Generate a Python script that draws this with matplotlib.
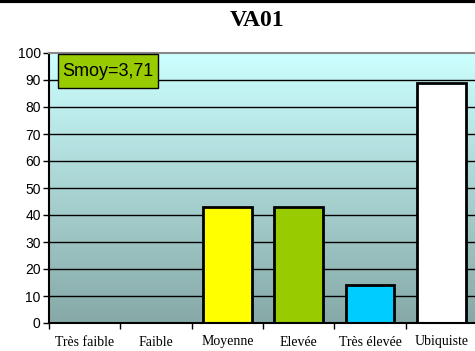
import numpy as np
import matplotlib
matplotlib.use("Agg")
from matplotlib import pyplot as plt
from matplotlib.colors import LinearSegmentedColormap
from matplotlib.patches import Rectangle

categories = ["Très faible", "Faible", "Moyenne", "Elevée", "Très élevée", "Ubiquiste"]
values = [0, 0, 43, 43, 14, 89]
bar_colors = ["#FFFF00", "#FFFF00", "#FFFF00", "#99CC00", "#00CCFF", "#FFFFFF"]
yticks = list(range(0, 101, 10))
title = "VA01"
smoy = "Smoy=3,71"

W, H = 475, 351
fig = plt.figure(figsize=(W / 100, H / 100), dpi=100)
fig.patch.set_facecolor("white")
ax = fig.add_axes([49 / W, 1 - 323 / H, 428 / W, 270 / H])

# background gradient, light cyan at top to grey teal at the bottom
grad = LinearSegmentedColormap.from_list("bg", ["#86A9A7", "#CCFFFF"])
ax.imshow(np.linspace(0, 1, 256).reshape(-1, 1), cmap=grad, aspect="auto",
          extent=(0, 1, 0, 1), transform=ax.transAxes, origin="lower", zorder=0)

x = np.arange(len(categories))
ax.set_xlim(-0.5, len(categories) - 0.5)
ax.set_ylim(0, 100)
for yv in yticks[1:-1]:
    ax.axhline(yv, color="black", lw=1.0, zorder=1)

ax.bar(x, values, width=0.68, color=bar_colors, edgecolor="black", linewidth=2, zorder=2)

ax.set_yticks(yticks)
ax.set_yticklabels([str(v) for v in yticks], fontname="Liberation Sans", fontsize=10)
ax.set_xticks(np.arange(len(categories) + 1) - 0.5)
ax.set_xticklabels([""] * (len(categories) + 1))
ax.set_xticks(x, minor=True)
ax.set_xticklabels(categories, minor=True, fontname="Liberation Serif", fontsize=10)
ax.tick_params(axis="x", which="minor", length=0, pad=9)
ax.tick_params(axis="x", which="major", direction="out", length=4, width=1)
ax.tick_params(axis="y", direction="out", length=4, width=1, pad=2)

ax.spines["top"].set_color("#888888")
ax.spines["top"].set_linewidth(1.5)
ax.spines["right"].set_visible(False)
ax.spines["left"].set_linewidth(1.5)
ax.spines["bottom"].set_linewidth(1.5)

# mean score box in the upper left corner
bx0, by0, bx1, by1 = 58, 54, 158, 88
fig.add_artist(Rectangle((bx0 / W, 1 - by1 / H), (bx1 - bx0) / W, (by1 - by0) / H,
                         transform=fig.transFigure, fc="#99CC00", ec="black", lw=1, zorder=5))
fig.text((bx0 + bx1) / 2 / W, 1 - (by0 + by1) / 2 / H, smoy, ha="center", va="center",
         fontname="Liberation Sans", fontsize=13, zorder=6)

fig.text(257 / W, 1 - 21 / H, title, ha="center", va="center", fontname="Liberation Serif",
         fontweight="bold", fontsize=17)
fig.add_artist(plt.Line2D([0, 1], [1 - 1 / H, 1 - 1 / H], color="black", lw=3,
                          transform=fig.transFigure))

fig.savefig("out.png", dpi=100)
